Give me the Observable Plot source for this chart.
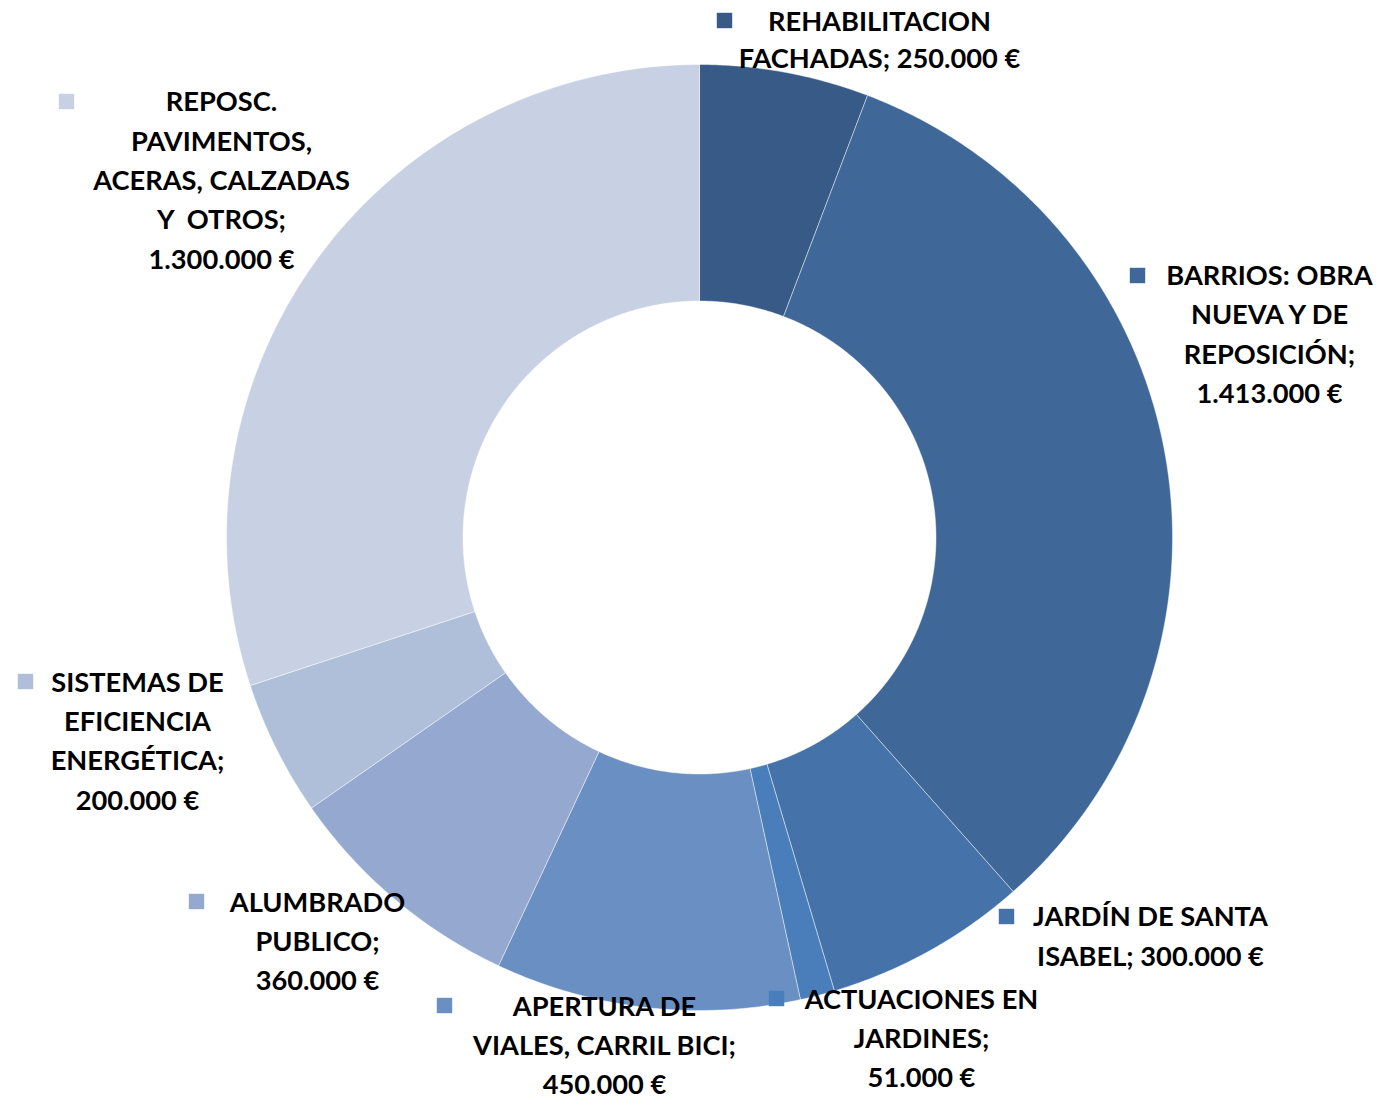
<!DOCTYPE html>
<html>
<head>
<meta charset="utf-8">
<script src="https://cdn.jsdelivr.net/npm/d3@7"></script>
<script src="https://cdn.jsdelivr.net/npm/@observablehq/plot@0.6"></script>
<style>
  html, body { margin: 0; padding: 0; background: #fff; }
  #chart svg { display: block; }
</style>
</head>
<body>
<div id="chart"></div>
<script>
// ---- data ----
const categories = [
  "REHABILITACION\nFACHADAS",
  "BARRIOS: OBRA\nNUEVA Y DE\nREPOSICIÓN",
  "JARDÍN DE SANTA\nISABEL",
  "ACTUACIONES EN\nJARDINES",
  "APERTURA DE\nVIALES, CARRIL BICI",
  "ALUMBRADO\nPUBLICO",
  "SISTEMAS DE\nEFICIENCIA\nENERGÉTICA",
  "REPOSC.\nPAVIMENTOS,\nACERAS, CALZADAS\nY\u00a0 OTROS"
];
const values = [250000, 1413000, 300000, 51000, 450000, 360000, 200000, 1300000];
const valueOnNewLine = [false, true, false, true, true, true, true, true];
const colors = ["#385A86", "#3F6899", "#4573A9", "#4A7EBB", "#6A8FC3", "#95A9D0", "#AFBFDA", "#C8D1E4"];

// ---- layout (pixels) ----
const W = 1381, H = 1099;
const CX = 699, CY = 537, R = 473, INNER = 0.5;
const labelPos = [[879, 41], [1269, 335], [1150, 937], [921, 1039], [604, 1046], [317, 942], [137, 741.5], [221, 181]];
const markerPos = [[724, 20], [1137, 275], [1006, 916], [776, 998], [444, 1005], [196, 901], [25, 681], [66, 101]];
const lineSpacing = 39.3;

const fontFamily = "Lato, 'Open Sans', sans-serif";
// size the font so that reference lines have (on average) the widths seen in the original
const ctx = document.createElement("canvas").getContext("2d");
ctx.font = "bold 100px Lato";
const refLines = ["BARRIOS: OBRA", "SISTEMAS DE", "ACERAS, CALZADAS", "REHABILITACION", "JARDÍN DE SANTA"];
const refTarget = 212 + 176 + 260 + 206 + 240;
const refW = d3.sum(refLines, s => ctx.measureText(s).width);
const fontSize = Math.min(30, Math.max(20, 100 * refTarget / refW));

const locale = d3.formatLocale({decimal: ",", thousands: ".", grouping: [3], currency: ["", " €"]});
const fmt = v => locale.format(",.0f")(v) + " €";

// ---- build slices ----
const pie = d3.pie().sort(null).value(d => d)(values);
const px2x = px => (px - CX) / R;
const px2y = py => (CY - py) / R;

const slicePts = [];
pie.forEach((p, i) => {
  const a0 = p.startAngle, a1 = p.endAngle;
  const n = Math.max(4, Math.ceil((a1 - a0) / (Math.PI / 360)));
  const pts = [];
  for (let k = 0; k <= n; k++) {
    const a = a0 + (a1 - a0) * k / n;
    pts.push({key: i, x: Math.sin(a), y: Math.cos(a)});
  }
  for (let k = n; k >= 0; k--) {
    const a = a0 + (a1 - a0) * k / n;
    pts.push({key: i, x: INNER * Math.sin(a), y: INNER * Math.cos(a)});
  }
  pts.push({...pts[0]});
  slicePts.push(...pts);
});

const labels = categories.map((c, i) => ({
  key: i,
  text: c + ";" + (valueOnNewLine[i] ? "\n" : " ") + fmt(values[i]),
  x: px2x(labelPos[i][0]),
  y: px2y(labelPos[i][1]),
  lh: i === 0 ? 37 : lineSpacing
}));
const markers = categories.map((c, i) => ({key: i, x: px2x(markerPos[i][0]), y: px2y(markerPos[i][1])}));

const textOpts = {
  x: "x", y: "y", text: "text", dy: -4,
  fontSize, fontWeight: "bold", fontFamily,
  lineAnchor: "middle", textAnchor: "middle", fill: "#000"
};

const chart = Plot.plot({
  width: W,
  height: H,
  margin: 0,
  x: {domain: [px2x(0), px2x(W)], axis: null},
  y: {domain: [px2y(H), px2y(0)], axis: null},
  color: {domain: d3.range(categories.length), range: colors},
  marks: [
    Plot.line(slicePts, {x: "x", y: "y", z: "key", fill: "key", stroke: "#ffffff", strokeOpacity: 0.55, strokeWidth: 0.8, curve: "linear"}),
    Plot.dot(markers, {x: "x", y: "y", fill: "key", symbol: "square", r: 8.7}),
    Plot.text(labels.slice(0, 1), {...textOpts, lineHeight: 37 / fontSize}),
    Plot.text(labels.slice(1), {...textOpts, lineHeight: lineSpacing / fontSize})
  ]
});
document.getElementById("chart").appendChild(chart);
</script>
</body>
</html>
